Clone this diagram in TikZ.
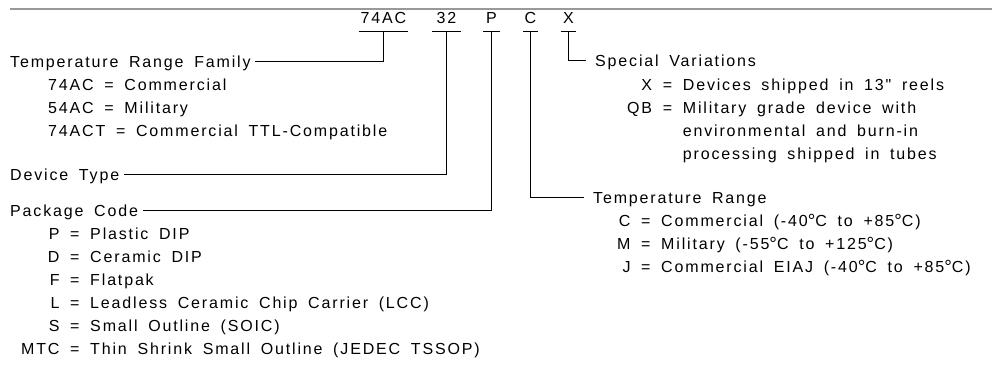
\documentclass[tikz,border=0pt]{standalone}
\usepackage{fontspec}
\setmainfont{Liberation Sans}[LetterSpace=11.5, WordSpace=1.7, Ligatures=TeXOff]
\usetikzlibrary{positioning}
\newcommand\dg{{\fontsize{19}{23}\selectfont\raisebox{-1pt}{°}}}

\begin{document}
\begin{tikzpicture}[
            x=1pt, y=-1pt,
            every node/.style={font=\fontsize{16}{23}\selectfont},
            code/.style={anchor=south, inner xsep=0pt, inner ysep=7pt},
            head/.style={anchor=west, inner xsep=4.5pt, inner ysep=0pt, text height=12pt, text depth=0pt},
            list/.style={anchor=base west, inner sep=0pt},
            wire/.style={line width=1pt}
            ]
            \useasboundingbox (0,0) rectangle (992,364);

            % part number
            \draw[gray!80, line width=2pt] (10,9) -- (992,9);
            \node[code, minimum width=49pt] (c74) at (383.5,31) {74AC};
            \node[code, minimum width=29pt] (c32) at (446.5,31) {32};
            \node[code, minimum width=16pt] (cP) at (491.5,31) {P};
            \node[code, minimum width=15pt] (cC) at (530.5,31) {C};
            \node[code, minimum width=15pt] (cX) at (568.5,31) {X};
            \foreach \c in {c74,c32,cP,cC,cX}
                \draw[wire] (\c.south west) -- (\c.south east);

            % left column
            \node[head] (fam) at (5.5,61) {Temperature Range Family};
            \node[list] (famlist) at (48,90) {\begin{tabular}[t]{@{}l@{}}
                74AC = Commercial\\
                54AC = Military\\
                74ACT = Commercial TTL-Compatible
                \end{tabular}};
            \node[head] (dtype) at (5.5,174) {Device Type};
            \node[head] (pkg) at (5.5,210) {Package Code};
            \node[list] (pkglist) at (21,239) {\begin{tabular}[t]{@{}r@{\ }c@{\ }l@{}}
                P & = & Plastic DIP\\
                D & = & Ceramic DIP\\
                F & = & Flatpak\\
                L & = & Leadless Ceramic Chip Carrier (LCC)\\
                S & = & Small Outline (SOIC)\\
                MTC & = & Thin Shrink Small Outline (JEDEC TSSOP)
                \end{tabular}};

            % right column
            \node[head, inner xsep=9pt] (special) at (586,60) {Special Variations};
            \node[list] (speclist) at (627,90) {\begin{tabular}[t]{@{}r@{\ }c@{\ }l@{}}
                X & = & Devices shipped in 13" reels\\
                QB & = & Military grade device with\\
                 & & environmental and burn-in\\
                 & & processing shipped in tubes
                \end{tabular}};
            \node[head, inner xsep=9pt] (trange) at (584,197) {Temperature Range};
            \node[list] (templist) at (617,226) {\begin{tabular}[t]{@{}r@{\ }c@{\ }l@{}}
                C & = & Commercial (-40\dg C to +85\dg C)\\
                M & = & Military (-55\dg C to +125\dg C)\\
                J & = & Commercial EIAJ (-40\dg C to +85\dg C)
                \end{tabular}};

            % leaders
            \draw[wire] (c74.south) |- (fam.east);
            \draw[wire] (c32.south) |- (dtype.east);
            \draw[wire] (cP.south) |- (pkg.east);
            \draw[wire] (cC.south) |- (trange.west);
            \draw[wire] (cX.south) |- (special.west);

        \end{tikzpicture}
\end{document}
